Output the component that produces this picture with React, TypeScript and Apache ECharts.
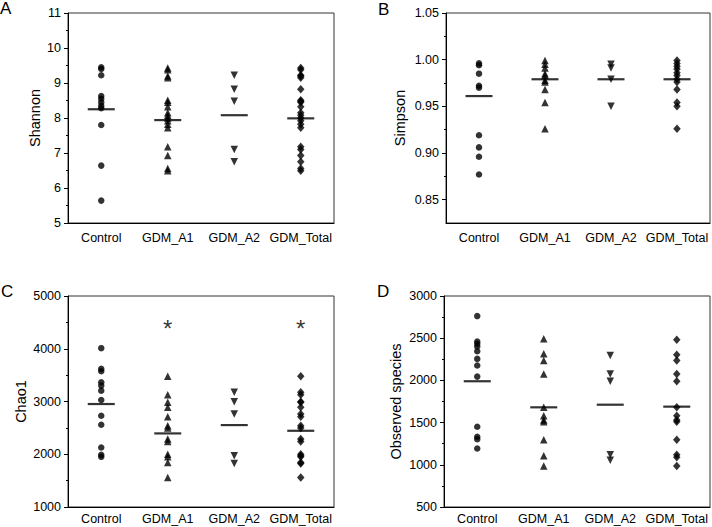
import React, { useEffect, useRef } from "react";
import * as echarts from "echarts";

const categories = ["Control", "GDM_A1", "GDM_A2", "GDM_Total"];

// Panel A: Shannon
const shannonControl = [9.45, 9.4, 9.22, 8.63, 8.55, 8.45, 8.35, 8.28, 7.8, 6.64, 5.64];
const shannonA1 = [9.43, 9.38, 9.2, 9.15, 8.51, 8.45, 8.32, 8.15, 8.08, 8.0, 7.92, 7.82, 7.72, 7.18, 6.93, 6.56, 6.49];
const shannonA2 = [9.22, 8.82, 8.48, 7.1, 6.75];
const shannonTotal = [9.43, 9.38, 9.22, 9.2, 9.15, 8.82, 8.51, 8.48, 8.45, 8.32, 8.15, 8.08, 8.0, 7.92, 7.82, 7.72, 7.18, 7.1, 6.93, 6.75, 6.56, 6.49];
const shannonMeans = [8.25, 7.94, 8.08, 7.99];

// Panel B: Simpson
const simpsonControl = [0.996, 0.994, 0.985, 0.972, 0.97, 0.919, 0.906, 0.896, 0.877];
const simpsonA1 = [0.999, 0.995, 0.991, 0.985, 0.983, 0.978, 0.976, 0.968, 0.954, 0.926];
const simpsonA2 = [0.995, 0.991, 0.979, 0.95];
const simpsonTotal = [0.999, 0.996, 0.993, 0.99, 0.986, 0.983, 0.979, 0.976, 0.968, 0.954, 0.95, 0.926];
const simpsonMeans = [0.961, 0.979, 0.979, 0.979];

// Panel C: Chao1
const chaoControl = [4011, 3618, 3574, 3364, 3301, 3206, 3029, 2731, 2560, 2128, 1989, 1951];
const chaoA1 = [3479, 3130, 2984, 2889, 2712, 2540, 2496, 2287, 2242, 2002, 1951, 1843, 1558];
const chaoA2 = [3174, 2997, 2762, 1970, 1824];
const chaoTotal = [3479, 3174, 3130, 2997, 2984, 2889, 2762, 2712, 2540, 2496, 2287, 2242, 2002, 1970, 1951, 1843, 1824, 1558];
const chaoMeans = [2952, 2395, 2553, 2445];
const chaoStarCategories = ["GDM_A1", "GDM_Total"];
const chaoStarValue = 4487;

// Panel D: Observed species
const obsControl = [2762, 2461, 2433, 2402, 2346, 2255, 2176, 2045, 1451, 1332, 1304, 1193];
const obsA1 = [2493, 2315, 2235, 2077, 1681, 1582, 1530, 1510, 1296, 1106, 987];
const obsA2 = [2295, 2077, 1990, 1118, 1055];
const obsTotal = [2481, 2303, 2235, 2077, 1990, 1681, 1582, 1530, 1510, 1296, 1118, 1090, 987];
const obsMeans = [1990, 1681, 1712, 1689];

const FONT = "Liberation Sans, Arial, sans-serif";
const INK = "#000";

export default function App() {
  const ref = useRef<HTMLDivElement>(null);

  useEffect(() => {
    if (!ref.current) return;
    const chart = echarts.init(ref.current, null, { renderer: "svg" });

    const grids = [
      { left: 68, top: 13, width: 266, height: 210 },
      { left: 446, top: 13, width: 264, height: 210 },
      { left: 68, top: 296, width: 266, height: 211 },
      { left: 444, top: 296, width: 266, height: 211 },
    ];
    const xLabelMargins = [8, 8, 5, 5];

    const groups = [
      [shannonControl, shannonA1, shannonA2, shannonTotal, shannonMeans],
      [simpsonControl, simpsonA1, simpsonA2, simpsonTotal, simpsonMeans],
      [chaoControl, chaoA1, chaoA2, chaoTotal, chaoMeans],
      [obsControl, obsA1, obsA2, obsTotal, obsMeans],
    ];

    const symbols: any[] = [
      { symbol: "circle", symbolSize: 6.5, symbolRotate: 0 },
      { symbol: "triangle", symbolSize: 7.5, symbolRotate: 0 },
      { symbol: "triangle", symbolSize: 7.5, symbolRotate: 180 },
      { symbol: "diamond", symbolSize: [7.5, 8.5], symbolRotate: 0 },
    ];

    const yNames = ["Shannon", "Simpson", "Chao1", "Observed species"];
    const yGaps = [26, 39, 40, 41];
    const yRanges = [
      { min: 5, max: 11, interval: 1 },
      { min: 0.825, max: 1.05 },
      { min: 1000, max: 5000, interval: 1000 },
      { min: 500, max: 3000, interval: 500 },
    ];

    const xAxis = grids.map((_, i) => ({
      type: "category",
      gridIndex: i,
      data: categories,
      axisLine: { lineStyle: { color: INK, width: 1 } },
      axisTick: { alignWithLabel: true, length: 3, lineStyle: { color: INK } },
      axisLabel: {
        color: INK,
        fontSize: 12.5,
        fontFamily: FONT,
        margin: xLabelMargins[i],
        interval: 0,
        hideOverlap: false,
      },
      splitLine: { show: false },
    }));

    const yAxis: any[] = grids.map((_, i) => {
      const r: any = yRanges[i];
      const base: any = {
        type: "value",
        gridIndex: i,
        min: r.min,
        max: r.max,
        name: yNames[i],
        nameLocation: "middle",
        nameGap: yGaps[i],
        nameTextStyle: { color: INK, fontSize: 14.5, fontFamily: FONT },
        axisLine: { show: true, lineStyle: { color: INK, width: 1 } },
        axisTick: { show: true, length: 4, lineStyle: { color: INK } },
        axisLabel: { color: INK, fontSize: 12.5, fontFamily: FONT, margin: 7, formatter: (v: number) => String(v) },
        splitLine: { show: false },
      };
      if (r.interval) {
        base.interval = r.interval;
        base.minorTick = { show: true, splitNumber: 2, length: 2, lineStyle: { color: INK } };
        base.minorSplitLine = { show: false };
      } else {
        base.axisTick.customValues = [0.85, 0.9, 0.95, 1.0, 1.05];
        base.axisLabel.customValues = [0.85, 0.9, 0.95, 1.0, 1.05];
        base.axisLabel.formatter = (v: number) => v.toFixed(2);
      }
      return base;
    });
    // minor ticks overlay for Simpson panel
    yAxis.push({
      type: "value",
      gridIndex: 1,
      position: "left",
      offset: 0,
      min: 0.825,
      max: 1.05,
      axisLine: { show: false },
      axisTick: { show: true, length: 2, lineStyle: { color: INK }, customValues: [0.875, 0.925, 0.975, 1.025] },
      axisLabel: { show: false },
      splitLine: { show: false },
    });

    const series: any[] = [];
    groups.forEach((g, pi) => {
      for (let k = 0; k < 4; k++) {
        const vals = g[k] as number[];
        series.push({
          type: "scatter",
          xAxisIndex: pi,
          yAxisIndex: pi,
          symbol: symbols[k].symbol,
          symbolSize: symbols[k].symbolSize,
          symbolRotate: symbols[k].symbolRotate,
          itemStyle: { color: INK },
          data: vals.map((v) => [categories[k], v]),
          silent: true,
        });
      }
      const means = g[4] as number[];
      series.push({
        type: "scatter",
        xAxisIndex: pi,
        yAxisIndex: pi,
        symbol: "rect",
        symbolSize: [27, 2.2],
        itemStyle: { color: INK },
        data: means.map((v, k) => [categories[k], v]),
        z: 3,
        silent: true,
      });
    });
    series.push({
      type: "scatter",
      xAxisIndex: 2,
      yAxisIndex: 2,
      symbolSize: 1,
      itemStyle: { color: "rgba(0,0,0,0)" },
      label: {
        show: true,
        position: "inside",
        formatter: "*",
        fontSize: 24,
        color: INK,
        fontFamily: FONT,
        offset: [0, 5],
      },
      data: chaoStarCategories.map((c) => [c, chaoStarValue]),
      silent: true,
    });

    const letters = [
      { t: "A", left: 0, top: 0 },
      { t: "B", left: 378, top: 1 },
      { t: "C", left: 1, top: 283 },
      { t: "D", left: 377, top: 283 },
    ];

    chart.setOption({
      animation: false,
      backgroundColor: "#fff",
      grid: grids.map((g) => ({
        ...g,
        show: true,
        borderColor: "#333",
        borderWidth: 1,
        backgroundColor: "transparent",
        containLabel: false,
      })),
      xAxis,
      yAxis,
      series,
      graphic: letters.map((l) => ({
        type: "text",
        left: l.left,
        top: l.top,
        style: { text: l.t, fontSize: 17, fontFamily: FONT, fill: INK },
      })),
    });

    return () => chart.dispose();
  }, []);

  return (
    <div
      ref={ref}
      style={{ position: "fixed", left: 0, top: 0, width: 712, height: 527, background: "#fff" }}
    />
  );
}
